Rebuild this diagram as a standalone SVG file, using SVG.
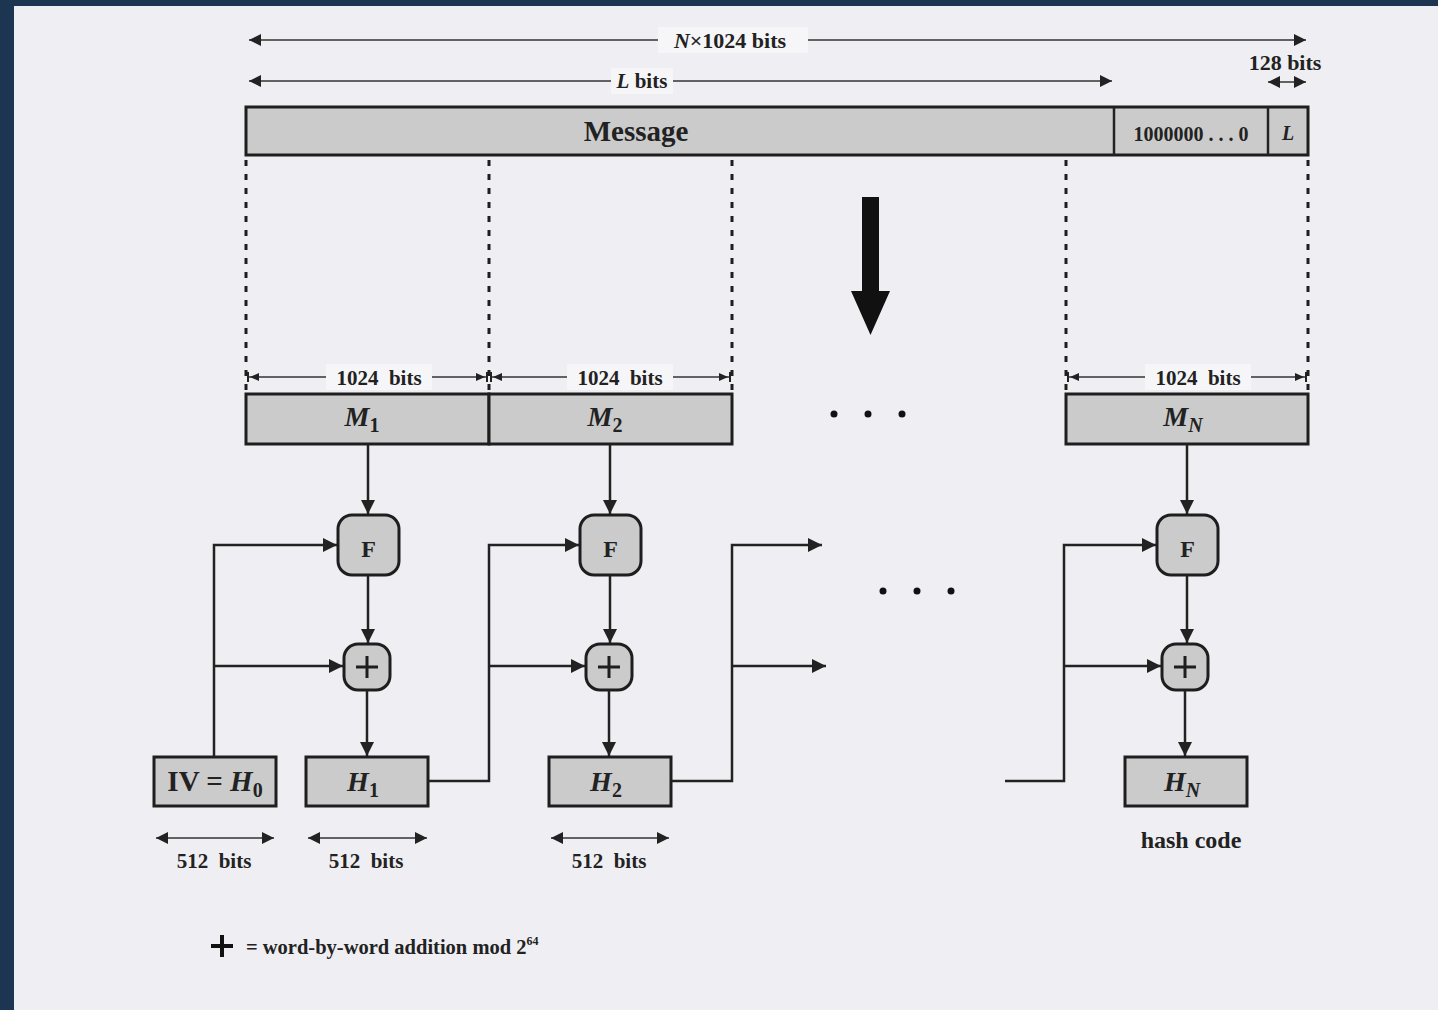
<svg xmlns="http://www.w3.org/2000/svg" width="1438" height="1010" viewBox="0 0 1438 1010">
<defs>
<marker id="ahb" viewBox="0 0 10 10" refX="10" refY="5" markerWidth="14" markerHeight="12" orient="auto-start-reverse" markerUnits="userSpaceOnUse">
<path d="M0,0 L10,5 L0,10 z" fill="#222"/>
</marker>
<marker id="ahm" viewBox="0 0 10 10" refX="10" refY="5" markerWidth="16" markerHeight="14" orient="auto-start-reverse" markerUnits="userSpaceOnUse">
<path d="M0,0 L10,5 L0,10 z" fill="#222"/>
</marker>
<marker id="aht" viewBox="0 0 12 10" refX="12" refY="5" markerWidth="14" markerHeight="10" orient="auto-start-reverse" markerUnits="userSpaceOnUse">
<path d="M0,1 L9,5 L0,9 z M10,0 L12,0 L12,10 L10,10 z" fill="#222"/>
</marker>
</defs>
<style>
.box{fill:#cbcbcb;stroke:#1e1e1e;stroke-width:3}
.ln{fill:none;stroke:#222;stroke-width:2.5}
.thin{fill:none;stroke:#333;stroke-width:1.6}
.dot{fill:none;stroke:#1e1e1e;stroke-width:3;stroke-dasharray:6,8}
.t{font-family:"Liberation Serif","Times New Roman",serif;font-weight:bold;fill:#222;text-anchor:middle}
.i{font-style:italic}
.lab{fill:#f6f6f8}
</style>
<rect x="0" y="0" width="1438" height="1010" fill="#1c3652"/>
<rect x="14" y="6" width="1424" height="1004" fill="#efeff3"/>

<!-- top dimension arrows -->
<g id="dim-top">
<line class="thin" x1="249" y1="40" x2="1306" y2="40" marker-start="url(#ahb)" marker-end="url(#ahb)"/>
<rect class="lab" x="658" y="27" width="150" height="26"/>
<text class="t" x="730" y="48" font-size="22"><tspan class="i">N</tspan>×1024 bits</text>
<line class="thin" x1="249" y1="81" x2="1112" y2="81" marker-start="url(#ahb)" marker-end="url(#ahb)"/>
<rect class="lab" x="611" y="68" width="62" height="26"/>
<text class="t" x="642" y="88" font-size="21"><tspan class="i">L</tspan> bits</text>
<text class="t" x="1285" y="70" font-size="22">128 bits</text>
<line class="thin" x1="1268" y1="82" x2="1306" y2="82" marker-start="url(#ahb)" marker-end="url(#ahb)"/>
</g>

<!-- message bar -->
<g id="message">
<rect class="box" x="246" y="107" width="1062" height="48"/>
<line class="ln" x1="1114" y1="107" x2="1114" y2="155" stroke-width="3"/>
<line class="ln" x1="1268" y1="107" x2="1268" y2="155" stroke-width="3"/>
<text class="t" x="636" y="141" font-size="29">Message</text>
<text class="t" x="1191" y="141" font-size="20">1000000 . . . 0</text>
<text class="t i" x="1288" y="140" font-size="20">L</text>
</g>

<!-- dotted dividers -->
<g id="dividers">
<line class="dot" x1="246" y1="160" x2="246" y2="390"/>
<line class="dot" x1="489" y1="160" x2="489" y2="390"/>
<line class="dot" x1="732" y1="160" x2="732" y2="390"/>
<line class="dot" x1="1066" y1="160" x2="1066" y2="390"/>
<line class="dot" x1="1308" y1="160" x2="1308" y2="390"/>
</g>

<!-- big arrow -->
<g id="big-arrow">
<path d="M862,197 L879,197 L879,291 L890,291 L870.5,335 L851,291 L862,291 z" fill="#111"/>
</g>

<!-- 1024 bits dims -->
<g id="dim-blocks">
<line class="thin" x1="247" y1="377" x2="488" y2="377" marker-start="url(#aht)" marker-end="url(#aht)"/>
<rect class="lab" x="326" y="364" width="106" height="26"/>
<text class="t" x="379" y="385" font-size="21">1024&#160; bits</text>
<line class="thin" x1="490" y1="377" x2="731" y2="377" marker-start="url(#aht)" marker-end="url(#aht)"/>
<rect class="lab" x="567" y="364" width="106" height="26"/>
<text class="t" x="620" y="385" font-size="21">1024&#160; bits</text>
<line class="thin" x1="1067" y1="377" x2="1307" y2="377" marker-start="url(#aht)" marker-end="url(#aht)"/>
<rect class="lab" x="1145" y="364" width="106" height="26"/>
<text class="t" x="1198" y="385" font-size="21">1024&#160; bits</text>
</g>

<!-- M blocks -->
<g id="M1"><rect class="box" x="246" y="394" width="243" height="50"/>
<text class="t i" x="362" y="426" font-size="28">M<tspan font-size="20" dy="6" font-style="normal">1</tspan></text></g>
<g id="M2"><rect class="box" x="489" y="394" width="243" height="50"/>
<text class="t i" x="605" y="426" font-size="28">M<tspan font-size="20" dy="6" font-style="normal">2</tspan></text></g>
<g id="MN"><rect class="box" x="1066" y="394" width="242" height="50"/>
<text class="t i" x="1183" y="426" font-size="28">M<tspan font-size="20" dy="6">N</tspan></text></g>

<g id="dots-top" fill="#111">
<circle cx="834" cy="414" r="3.5"/><circle cx="868" cy="414" r="3.5"/><circle cx="902" cy="414" r="3.5"/>
</g>
<g id="dots-mid" fill="#111">
<circle cx="883" cy="591" r="3.5"/><circle cx="917" cy="591" r="3.5"/><circle cx="951" cy="591" r="3.5"/>
</g>

<!-- F boxes -->
<g id="F1"><rect class="box" x="338" y="515" width="61" height="60" rx="14"/>
<text class="t" x="368.5" y="557" font-size="24">F</text></g>
<g id="F2"><rect class="box" x="580" y="515" width="61" height="60" rx="14"/>
<text class="t" x="610.5" y="557" font-size="24">F</text></g>
<g id="FN"><rect class="box" x="1157" y="515" width="61" height="60" rx="14"/>
<text class="t" x="1187.5" y="557" font-size="24">F</text></g>

<!-- adders -->
<g id="add1"><rect class="box" x="344" y="644" width="46" height="46" rx="14"/>
<path d="M367,656 V678 M356,667 H378" stroke="#1e1e1e" stroke-width="3"/></g>
<g id="add2"><rect class="box" x="586" y="644" width="46" height="46" rx="14"/>
<path d="M609,656 V678 M598,667 H620" stroke="#1e1e1e" stroke-width="3"/></g>
<g id="addN"><rect class="box" x="1162" y="644" width="46" height="46" rx="14"/>
<path d="M1185,656 V678 M1174,667 H1196" stroke="#1e1e1e" stroke-width="3"/></g>

<!-- H boxes -->
<g id="H0"><rect class="box" x="154" y="757" width="122" height="49"/>
<text class="t" x="215" y="791" font-size="29">IV = <tspan font-style="italic">H</tspan><tspan font-size="20" dy="6">0</tspan></text></g>
<g id="H1"><rect class="box" x="306" y="757" width="122" height="49"/>
<text class="t i" x="363" y="791" font-size="28">H<tspan font-size="20" dy="6" font-style="normal">1</tspan></text></g>
<g id="H2"><rect class="box" x="549" y="757" width="122" height="49"/>
<text class="t i" x="606" y="791" font-size="28">H<tspan font-size="20" dy="6" font-style="normal">2</tspan></text></g>
<g id="HN"><rect class="box" x="1125" y="757" width="122" height="49"/>
<text class="t i" x="1182" y="791" font-size="28">H<tspan font-size="20" dy="6">N</tspan></text></g>

<!-- connectors -->
<g id="connectors">
<line class="ln" x1="368" y1="444" x2="368" y2="514" marker-end="url(#ahm)"/>
<line class="ln" x1="368" y1="575" x2="368" y2="643" marker-end="url(#ahm)"/>
<line class="ln" x1="367" y1="690" x2="367" y2="756" marker-end="url(#ahm)"/>
<polyline class="ln" points="214,757 214,545 337,545" marker-end="url(#ahm)"/>
<line class="ln" x1="214" y1="666" x2="343" y2="666" marker-end="url(#ahm)"/>

<line class="ln" x1="610" y1="444" x2="610" y2="514" marker-end="url(#ahm)"/>
<line class="ln" x1="610" y1="575" x2="610" y2="643" marker-end="url(#ahm)"/>
<line class="ln" x1="609" y1="690" x2="609" y2="756" marker-end="url(#ahm)"/>
<polyline class="ln" points="428,781 489,781 489,545 579,545" marker-end="url(#ahm)"/>
<line class="ln" x1="489" y1="666" x2="585" y2="666" marker-end="url(#ahm)"/>

<polyline class="ln" points="671,781 732,781 732,545 822,545" marker-end="url(#ahm)"/>
<line class="ln" x1="732" y1="666" x2="826" y2="666" marker-end="url(#ahm)"/>

<line class="ln" x1="1187" y1="444" x2="1187" y2="514" marker-end="url(#ahm)"/>
<line class="ln" x1="1187" y1="575" x2="1187" y2="643" marker-end="url(#ahm)"/>
<line class="ln" x1="1185" y1="690" x2="1185" y2="756" marker-end="url(#ahm)"/>
<polyline class="ln" points="1005,781 1064,781 1064,545 1156,545" marker-end="url(#ahm)"/>
<line class="ln" x1="1064" y1="666" x2="1161" y2="666" marker-end="url(#ahm)"/>
</g>

<!-- 512 bits dims -->
<g id="dim-h">
<line class="thin" x1="156" y1="838" x2="274" y2="838" marker-start="url(#ahb)" marker-end="url(#ahb)"/>
<text class="t" x="214" y="868" font-size="21">512&#160; bits</text>
<line class="thin" x1="308" y1="838" x2="427" y2="838" marker-start="url(#ahb)" marker-end="url(#ahb)"/>
<text class="t" x="366" y="868" font-size="21">512&#160; bits</text>
<line class="thin" x1="551" y1="838" x2="669" y2="838" marker-start="url(#ahb)" marker-end="url(#ahb)"/>
<text class="t" x="609" y="868" font-size="21">512&#160; bits</text>
<text class="t" x="1191" y="848" font-size="24">hash code</text>
</g>

<!-- legend -->
<g id="legend">
<path d="M222,935 V957 M211,946 H233" stroke="#111" stroke-width="4"/>
<text class="t" x="246" y="954" font-size="20.5" style="text-anchor:start">= word-by-word addition mod 2<tspan font-size="12" dy="-9">64</tspan></text>
</g>
</svg>
